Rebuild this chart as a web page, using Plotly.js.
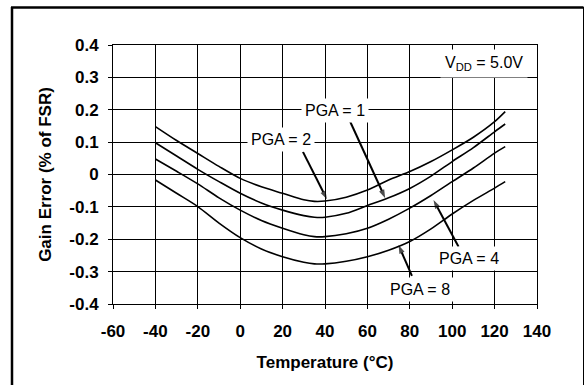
<!DOCTYPE html>
<html>
<head>
<meta charset="utf-8">
<script src="https://cdn.plot.ly/plotly-3.0.1.min.js"></script>
<style>html,body{margin:0;padding:0;background:#fff;}#chart{width:586px;height:385px;}</style>
</head>
<body>
<div id="chart"></div>
<script>
// Temperature (°C)
const temps = [-40, -30, -20, -10, 0, 10, 20, 30, 35, 40, 50, 60, 70, 80, 90, 100, 110, 120, 125];
// Gain error (% of FSR)
const pga1 = [0.148, 0.105, 0.065, 0.025, -0.012, -0.038, -0.058, -0.078, -0.083, -0.082, -0.070, -0.048, -0.017, 0.009, 0.040, 0.076, 0.115, 0.163, 0.194];
const pga2 = [0.098, 0.057, 0.016, -0.022, -0.058, -0.088, -0.110, -0.127, -0.132, -0.132, -0.120, -0.096, -0.072, -0.043, -0.005, 0.040, 0.083, 0.132, 0.156];
const pga4 = [0.048, 0.010, -0.029, -0.072, -0.110, -0.142, -0.166, -0.186, -0.192, -0.192, -0.183, -0.166, -0.138, -0.104, -0.065, -0.022, 0.020, 0.066, 0.086];
const pga8 = [-0.017, -0.058, -0.099, -0.150, -0.195, -0.230, -0.254, -0.271, -0.276, -0.276, -0.268, -0.254, -0.234, -0.207, -0.168, -0.122, -0.080, -0.042, -0.022];

const xTickVals = [-60, -40, -20, 0, 20, 40, 60, 80, 100, 120, 140];
const xTickText = ["-60", "-40", "-20", "0", "20", "40", "60", "80", "100", "120", "140"];
const yTickVals = [-0.4, -0.3, -0.2, -0.1, 0, 0.1, 0.2, 0.3, 0.4];
const yTickText = ["-0.4", "-0.3", "-0.2", "-0.1", "0", "0.1", "0.2", "0.3", "0.4"];

// label text, label position, arrow tail, arrow tip (data units)
const labelTexts = ["PGA = 1", "PGA = 2", "PGA = 4", "PGA = 8"];
const labelX = [44.8, 19.3, 108, 84.7];
const labelY = [0.199, 0.107, -0.258, -0.356];
const tailX = [51.9, 29.6, 103, 81];
const tailY = [0.163, 0.070, -0.223, -0.313];
const tipX = [68.4, 40.9, 91.2, 74.7];
const tipY = [-0.073, -0.0765, -0.079, -0.218];

const vddText = "V<sub>DD</sub> = 5.0V";
const vddX = 115, vddY = 0.344;

const seriesNames = ["PGA = 1", "PGA = 2", "PGA = 4", "PGA = 8"];
const seriesData = [pga1, pga2, pga4, pga8];

const traces = seriesData.map((ys, i) => ({
  x: temps, y: ys, type: 'scatter', mode: 'lines', name: seriesNames[i],
  line: {color: '#000', width: 1.6, shape: 'spline', smoothing: 0.8},
  hoverinfo: 'skip'
}));

// arrows as small line traces ending in an arrow marker
for (let i = 0; i < labelTexts.length; i++) {
  traces.push({
    x: [tailX[i], tipX[i]], y: [tailY[i], tipY[i]], type: 'scatter', mode: 'lines+markers',
    name: labelTexts[i] + ' arrow', hoverinfo: 'skip',
    line: {color: '#000', width: 2},
    marker: {symbol: ['circle', 'arrow'], size: [0, 9], angleref: 'previous', color: '#000', line: {width: 0}}
  });
}

const tickFont = {family: 'Liberation Sans, Arial, sans-serif', size: 17, color: '#000', weight: 'bold'};
const titleFont = {family: 'Liberation Sans, Arial, sans-serif', size: 17, color: '#000', weight: 'bold'};
const annFont = {family: 'Liberation Sans, Arial, sans-serif', size: 16, color: '#000'};

const annotations = [];
for (let i = 0; i < labelTexts.length; i++) {
  annotations.push({
    x: labelX[i], y: labelY[i], xref: 'x', yref: 'y',
    text: labelTexts[i], showarrow: false, font: annFont,
    bgcolor: '#fff', borderpad: 3
  });
}
annotations.push({
  x: vddX, y: vddY, xref: 'x', yref: 'y', text: vddText, showarrow: false,
  font: annFont, bgcolor: '#fff', borderpad: 4
});

const px = v => (v - 113) / 424;
const py = v => (304 - v) / 259;

const layout = {
  width: 586, height: 385,
  margin: {l: 113, r: 49, t: 45, b: 81, pad: 0},
  paper_bgcolor: '#fff', plot_bgcolor: '#fff',
  showlegend: false,
  xaxis: {
    range: [-60, 140], tickvals: xTickVals, ticktext: xTickText,
    showgrid: true, gridcolor: '#000', gridwidth: 1,
    showline: true, linecolor: '#000', linewidth: 1, mirror: true,
    ticks: 'outside', ticklen: 4, tickcolor: '#000', tickwidth: 1,
    zeroline: false, tickfont: tickFont, ticklabelstandoff: 8,
    title: {text: 'Temperature (°C)', font: titleFont, standoff: 15},
    fixedrange: true
  },
  yaxis: {
    range: [-0.4, 0.4], tickvals: yTickVals, ticktext: yTickText,
    showgrid: true, gridcolor: '#000', gridwidth: 1,
    showline: true, linecolor: '#000', linewidth: 1, mirror: true,
    ticks: 'outside', ticklen: 4, tickcolor: '#000', tickwidth: 1,
    zeroline: false, tickfont: tickFont, ticklabelstandoff: 6,
    title: {text: 'Gain Error (% of FSR)', font: titleFont, standoff: 13},
    fixedrange: true
  },
  annotations: annotations,
  shapes: [
    {type: 'line', xref: 'paper', yref: 'paper', x0: px(12), x1: px(12), y0: py(7), y1: py(400), line: {color: '#000', width: 2.5}},
    {type: 'line', xref: 'paper', yref: 'paper', x0: px(11), x1: px(583.5), y0: py(7.5), y1: py(7.5), line: {color: '#000', width: 2.5}},
    {type: 'line', xref: 'paper', yref: 'paper', x0: px(583.5), x1: px(583.5), y0: py(7), y1: py(400), line: {color: '#000', width: 1}}
  ]
};

Plotly.newPlot('chart', traces, layout, {displayModeBar: false, staticPlot: true});
</script>
</body>
</html>
